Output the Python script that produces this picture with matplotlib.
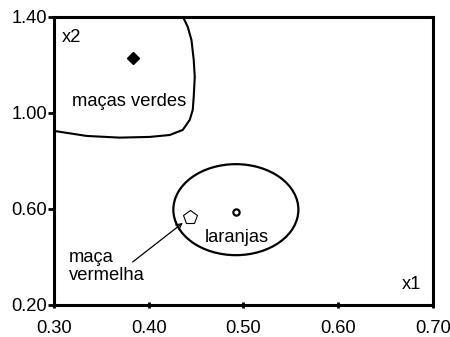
import matplotlib
matplotlib.use("Agg")
import matplotlib.pyplot as plt
from matplotlib.patches import Ellipse

plt.rcParams['font.family'] = ['Liberation Sans', 'DejaVu Sans']

# class centres
green_apple = (0.383, 1.23)
orange = (0.4925, 0.588)
red_apple = (0.444, 0.568)

# decision boundary around the green apples
boundary_x = [0.4362, 0.4412, 0.4451, 0.4475, 0.4486, 0.4475, 0.4465, 0.4433,
              0.4359, 0.4222, 0.4012, 0.3695, 0.3345, 0.300]
boundary_y = [1.400, 1.358, 1.304, 1.221, 1.150, 1.067, 1.013, 0.971,
              0.929, 0.908, 0.900, 0.897, 0.904, 0.925]

# ellipse around the oranges
ell_center = (0.492, 0.597)
ell_width = 0.132
ell_height = 0.379

x_ticks = [0.30, 0.40, 0.50, 0.60, 0.70]
y_ticks = [0.20, 0.60, 1.00, 1.40]

fig = plt.figure(figsize=(4.5, 3.37), dpi=100)
ax = fig.add_axes([0.12, 0.095, 0.842, 0.855])

ax.plot(boundary_x, boundary_y, color='black', lw=1.5)
ax.add_patch(Ellipse(ell_center, ell_width, ell_height, fill=False,
                     edgecolor='black', lw=1.6))

ax.plot(*green_apple, marker='D', ms=6, color='black', ls='none')
ax.plot(*orange, marker='o', ms=4.5, mfc='white', mec='black', mew=1.6, ls='none')
ax.plot(*red_apple, marker='p', ms=10, mfc='white', mec='black', mew=0.8, ls='none')

ax.annotate('', xy=(0.436, 0.542), xytext=(0.383, 0.379),
            arrowprops=dict(arrowstyle='->', color='black', lw=0.9,
                            shrinkA=0, shrinkB=0))

fs = 13.2
ax.text(0.319, 1.046, 'maças verdes', fontsize=fs, ha='left', va='center')
ax.text(0.4935, 0.479, 'laranjas', fontsize=fs, ha='center', va='center')
ax.text(0.316, 0.36, 'maça\nvermelha', fontsize=fs, ha='left', va='center',
        linespacing=1.1)
ax.text(0.308, 1.313, 'x2', fontsize=fs, ha='left', va='center')
ax.text(0.688, 0.286, 'x1', fontsize=fs, ha='right', va='center')

ax.set_xlim(0.30, 0.70)
ax.set_ylim(0.20, 1.40)
ax.set_xticks(x_ticks)
ax.set_yticks(y_ticks)
ax.set_xticklabels([f'{v:.2f}' for v in x_ticks], fontsize=fs)
ax.set_yticklabels([f'{v:.2f}' for v in y_ticks], fontsize=fs)
ax.tick_params(axis='x', direction='inout', length=5, width=2, pad=8)
ax.tick_params(axis='y', direction='out', length=4, width=2, pad=1)
for s in ax.spines.values():
    s.set_linewidth(2.2)

fig.savefig('out.png', dpi=100)
